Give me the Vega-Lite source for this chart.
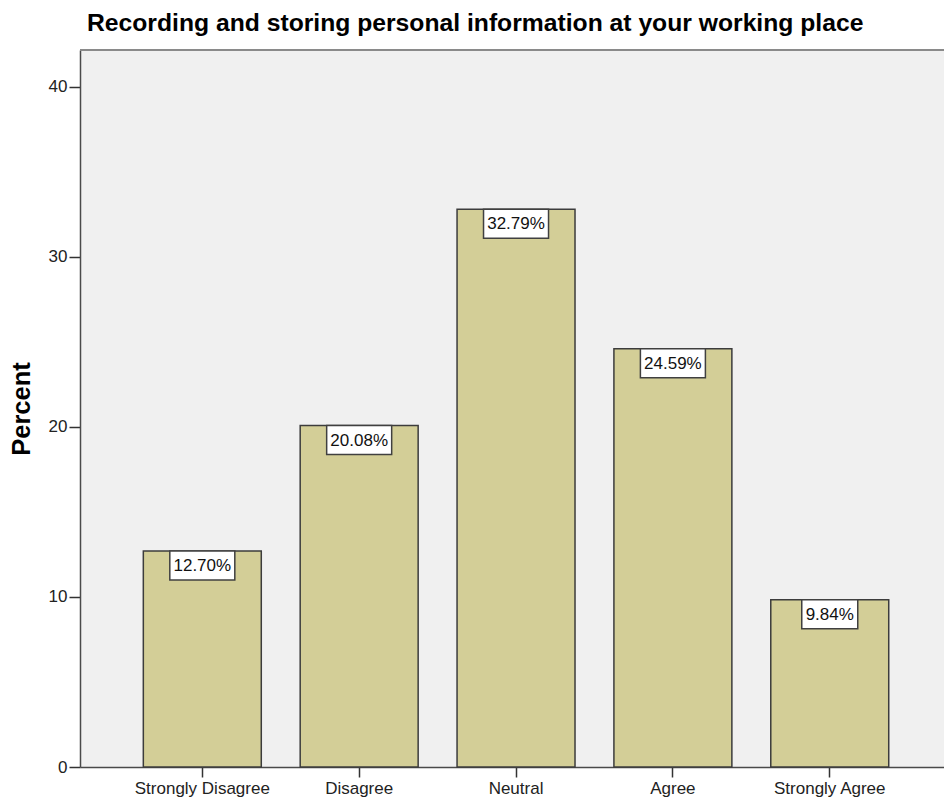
{
  "$schema": "https://vega.github.io/schema/vega-lite/v6.json",
  "width": 864,
  "height": 717,
  "autosize": {"type": "none"},
  "padding": {"left": 80, "top": 50, "right": 0, "bottom": 35},
  "background": "white",
  "title": {
    "text": "Recording and storing personal information at your working place",
    "anchor": "start",
    "frame": "group",
    "dx": 7,
    "offset": 13,
    "font": "Liberation Sans",
    "fontSize": 24.7,
    "fontWeight": "bold",
    "color": "#000000"
  },
  "config": {
    "view": {"fill": "#F0F0F0", "stroke": null},
    "font": "Liberation Sans",
    "axis": {
      "labelFont": "Liberation Sans",
      "labelFontSize": 17,
      "labelColor": "#222222",
      "domainColor": "#4a4a4a",
      "domainWidth": 1.5,
      "tickColor": "#333333",
      "tickWidth": 1.5,
      "grid": false
    }
  },
  "datasets": {
    "responses": [
      {"response": "Strongly Disagree", "pct": 12.70},
      {"response": "Disagree", "pct": 20.08},
      {"response": "Neutral", "pct": 32.79},
      {"response": "Agree", "pct": 24.59},
      {"response": "Strongly Agree", "pct": 9.84}
    ],
    "frame": [{"top": 42.16}]
  },
  "layer": [
    {
      "data": {"name": "frame"},
      "mark": {"type": "rule", "color": "#8a8a8a", "strokeWidth": 2},
      "encoding": {
        "y": {"field": "top", "type": "quantitative", "title": "Percent"}
      }
    },
    {
      "data": {"name": "responses"},
      "encoding": {
        "x": {
          "field": "response",
          "type": "nominal",
          "sort": null,
          "scale": {"paddingInner": 0.248, "paddingOuter": 0.378, "align": 0.534},
          "axis": {
            "title": null,
            "labelAngle": 0,
            "tickSize": 10,
            "labelPadding": 3
          }
        }
      },
      "layer": [
        {
          "mark": {"type": "bar", "fill": "#D3CE97", "stroke": "#3c3c3c", "strokeWidth": 1.5},
          "encoding": {
            "y": {
              "field": "pct",
              "type": "quantitative",
              "scale": {"domain": [0, 42.16], "nice": false},
              "axis": {
                "title": "Percent",
                "titleFont": "Liberation Sans",
                "titleFontSize": 25.5,
                "titleFontWeight": "bold",
                "titleColor": "#000000",
                "titlePadding": 14,
                "values": [0, 10, 20, 30, 40],
                "tickSize": 11,
                "labelPadding": 2
              }
            }
          }
        },
        {
          "transform": [
            {"calculate": "format(datum.pct, '.2f') + '%'", "as": "label"}
          ],
          "layer": [
            {
              "mark": {"type": "bar", "fill": "white", "stroke": "#404040", "strokeWidth": 1.5, "y2Offset": 29},
              "encoding": {
                "y": {"field": "pct", "type": "quantitative"},
                "y2": {"field": "pct"},
                "size": {"condition": {"test": "datum.pct < 10", "value": 56}, "value": 65}
              }
            },
            {
              "mark": {"type": "text", "font": "Liberation Sans", "fontSize": 17, "color": "#111111", "baseline": "middle", "align": "center", "dy": 15},
              "encoding": {
                "y": {"field": "pct", "type": "quantitative"},
                "text": {"field": "label"}
              }
            }
          ]
        }
      ]
    }
  ]
}
